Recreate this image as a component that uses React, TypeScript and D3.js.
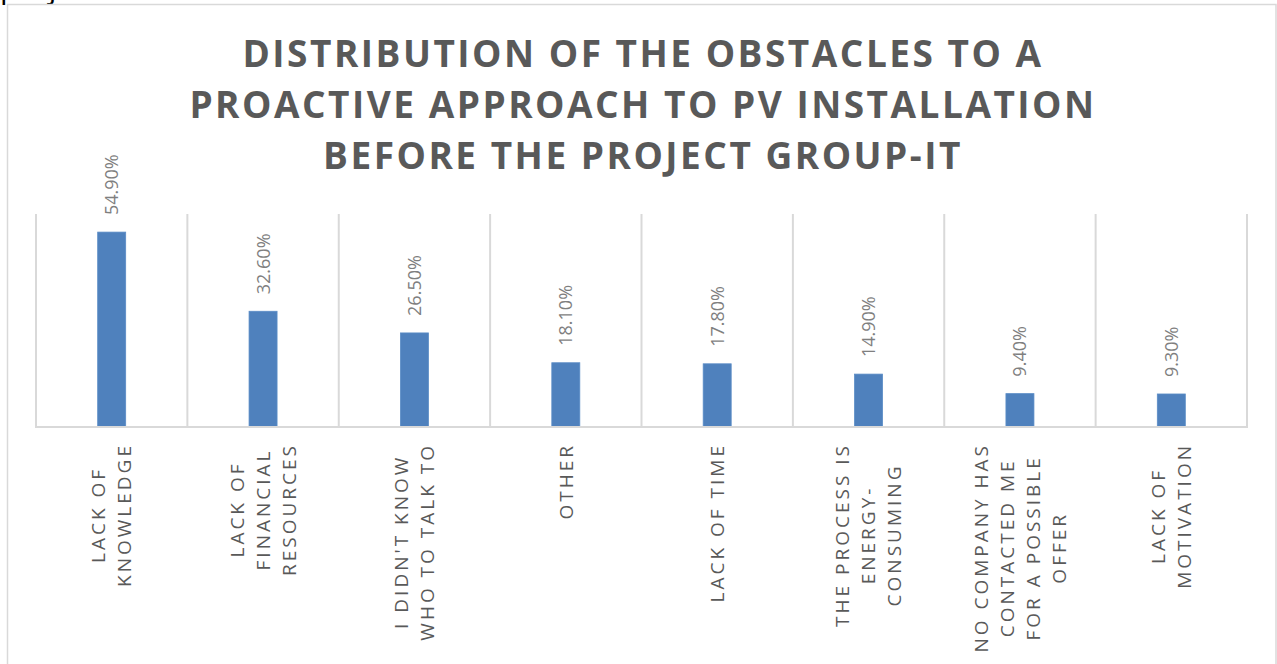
import React, { useEffect, useRef } from 'react';
import * as d3 from 'd3';

const categories = [
  'LACK OF KNOWLEDGE',
  'LACK OF FINANCIAL RESOURCES',
  "I DIDN'T KNOW WHO TO TALK TO",
  'OTHER',
  'LACK OF TIME',
  'THE PROCESS IS ENERGY-CONSUMING',
  'NO COMPANY HAS CONTACTED ME FOR A POSSIBLE OFFER',
  'LACK OF MOTIVATION',
];
const categoryLines = [
  ['LACK OF', 'KNOWLEDGE'],
  ['LACK OF', 'FINANCIAL', 'RESOURCES'],
  ["I DIDN'T KNOW", 'WHO TO TALK TO'],
  ['OTHER'],
  ['LACK OF TIME'],
  ['THE PROCESS IS', 'ENERGY-', 'CONSUMING'],
  ['NO COMPANY HAS', 'CONTACTED ME', 'FOR A POSSIBLE', 'OFFER'],
  ['LACK OF', 'MOTIVATION'],
];
const values = [54.9, 32.6, 26.5, 18.1, 17.8, 14.9, 9.4, 9.3];
const valueLabels = ['54.90%', '32.60%', '26.50%', '18.10%', '17.80%', '14.90%', '9.40%', '9.30%'];
const titleLines = [
  'DISTRIBUTION OF THE OBSTACLES TO A',
  'PROACTIVE APPROACH TO PV INSTALLATION',
  'BEFORE THE PROJECT GROUP-IT',
];
const yMax = 60;

const W = 1277;
const H = 664;

export default function App() {
  const ref = useRef<SVGSVGElement>(null);

  useEffect(() => {
    const svg = d3.select(ref.current);
    svg.selectAll('*').remove();

    const left = 36, right = 1247, top = 214, bottom = 427;
    const x = d3.scaleBand<string>().domain(categories).range([left, right]).padding(0);
    const y = d3.scaleLinear().domain([0, yMax]).range([bottom, top]);

    // stray text fragment at the very top
    svg.append('text')
      .attr('x', 0).attr('y', -2)
      .attr('font-family', 'Open Sans').attr('font-size', 30)
      .attr('fill', '#000').text('project');

    // chart frame
    svg.append('rect')
      .attr('x', 7.5).attr('y', 4.5).attr('width', 1268.5).attr('height', 720)
      .attr('fill', '#fff').attr('stroke', '#d9d9d9').attr('stroke-width', 1.5);

    // title
    const title = svg.append('g')
      .attr('font-family', 'Open Sans').attr('font-weight', 700)
      .attr('font-size', 37).attr('fill', '#595959').attr('text-anchor', 'middle')
      .attr('letter-spacing', 2.5);
    titleLines.forEach((t, i) => {
      title.append('text').attr('x', 643).attr('y', 67 + i * 51).text(t);
    });

    // vertical gridlines at category boundaries
    const bounds = categories.map((c) => x(c) as number).concat([right]);
    svg.append('g').selectAll('line').data(bounds).join('line')
      .attr('x1', (d) => d).attr('x2', (d) => d)
      .attr('y1', top).attr('y2', bottom)
      .attr('stroke', '#d9d9d9').attr('stroke-width', 2);

    // bars
    const bw = x.bandwidth() * 0.185;
    svg.append('g').selectAll('rect').data(values).join('rect')
      .attr('x', (d, i) => (x(categories[i]) as number) + x.bandwidth() / 2 - bw / 2)
      .attr('y', (d) => y(d))
      .attr('width', bw)
      .attr('height', (d) => y(0) - y(d))
      .attr('fill', '#4f81bd')
      .attr('stroke', '#5b8cc6').attr('stroke-width', 0.8);

    // bottom axis line
    svg.append('line')
      .attr('x1', left - 1).attr('x2', right + 1)
      .attr('y1', bottom).attr('y2', bottom)
      .attr('stroke', '#d9d9d9').attr('stroke-width', 2);

    // value labels
    svg.append('g').selectAll('text').data(values).join('text')
      .attr('font-family', 'Open Sans').attr('font-size', 18).attr('fill', '#7f7f7f')
      .attr('text-anchor', 'start')
      .attr('transform', (d, i) => {
        const cx = (x(categories[i]) as number) + x.bandwidth() / 2 + 6.5;
        return `translate(${cx},${y(d) - 17}) rotate(-90)`;
      })
      .text((d, i) => valueLabels[i]);

    // category labels
    const lineGap = 26;
    const labelTop = 443;
    categoryLines.forEach((lines, i) => {
      const cx = (x(categories[i]) as number) + x.bandwidth() / 2;
      const g = svg.append('g')
        .attr('font-family', 'Open Sans').attr('font-size', 19).attr('fill', '#595959')
        .attr('letter-spacing', 3).attr('text-anchor', 'middle');
      const texts = lines.map((ln, j) => {
        const lx = cx + (j - (lines.length - 1) / 2) * lineGap + 6.8;
        return g.append('text').attr('data-x', lx).text(ln);
      });
      const maxLen = d3.max(texts, (t) => (t.node() as SVGTextElement).getComputedTextLength()) || 0;
      const cy = labelTop + (maxLen - 3) / 2;
      texts.forEach((t) => {
        const lx = +t.attr('data-x');
        t.attr('transform', `translate(${lx},${cy + 1.5}) rotate(-90)`);
      });
    });
  }, []);

  return (
    <svg
      ref={ref}
      width={W}
      height={H}
      style={{ position: 'absolute', left: 0, top: 0, background: '#fff' }}
    />
  );
}
